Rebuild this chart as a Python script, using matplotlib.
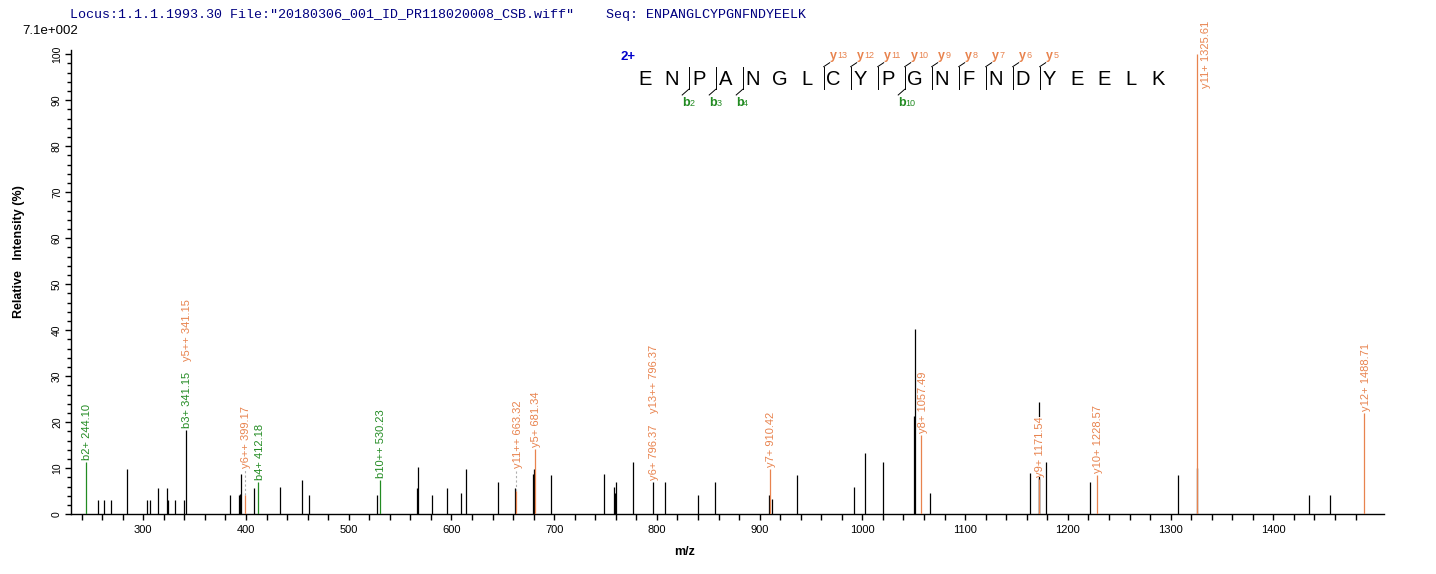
import matplotlib
matplotlib.use("Agg")
import matplotlib.pyplot as plt
from matplotlib.ticker import MultipleLocator, FixedLocator
from matplotlib.lines import Line2D
from matplotlib.textpath import TextPath
from matplotlib.font_manager import FontProperties

plt.rcParams['font.family'] = ['Liberation Sans', 'DejaVu Sans']

# ---------------- data ----------------
header = 'Locus:1.1.1.1993.30 File:"20180306_001_ID_PR118020008_CSB.wiff"    Seq: ENPANGLCYPGNFNDYEELK'
scale_text = '7.1e+002'
sequence = 'ENPANGLCYPGNFNDYEELK'
charge_text = '2+'
b_ions = [2, 3, 4, 10]
y_ions = [13, 12, 11, 10, 9, 8, 7, 6, 5]
x_major_ticks = [300, 400, 500, 600, 700, 800, 900, 1000, 1100, 1200, 1300, 1400]

# unmatched peaks (m/z, relative intensity %)
peak_mz = [256.2, 262.1, 268.9, 284.4, 303.9, 306.8, 314.0, 323.4, 324.3, 331.1,
           339.9, 384.6, 392.8, 394.1, 395.3, 408.0, 433.3, 454.7, 461.5, 527.6,
           566.5, 567.5, 581.1, 595.7, 609.3, 614.0, 645.7, 662.3, 679.8, 680.7,
           696.9, 748.4, 758.2, 759.1, 760.1, 777.0, 808.1, 839.8, 856.3, 908.9,
           911.9, 936.2, 991.6, 1002.6, 1020.0, 1050.3, 1051.3, 1065.6, 1163.2, 1171.8,
           1172.2, 1178.4, 1221.2, 1307.1, 1325.9, 1434.9, 1455.0]
peak_int = [3.0, 3.2, 3.0, 9.85, 3.0, 3.0, 5.7, 5.7, 3.0, 3.0,
            3.0, 4.2, 4.2, 4.4, 8.8, 5.7, 5.9, 7.46, 4.2, 4.2,
            5.7, 10.3, 4.2, 5.7, 4.6, 9.85, 7.0, 5.65, 8.76, 9.85,
            8.5, 8.76, 5.9, 4.6, 7.0, 11.35, 7.0, 4.2, 7.0, 4.2,
            3.4, 8.5, 5.9, 13.3, 11.4, 21.4, 40.2, 4.7, 9.0, 7.8,
            24.4, 11.3, 7.0, 8.6, 10.0, 4.2, 4.2]

# matched (annotated) peaks
ann_mz = [244.10, 341.15, 399.17, 412.18, 530.23, 663.32, 681.34, 796.37,
          910.42, 1057.49, 1171.54, 1228.57, 1325.61, 1488.71]
ann_int = [11.4, 18.3, 4.2, 6.95, 7.46, 5.06, 14.1, 7.0,
           9.85, 17.2, 7.6, 8.5, 100.0, 21.95]
ann_text = [['b2+ 244.10'], ['b3+ 341.15', 'y5++ 341.15'], ['y6++ 399.17'],
            ['b4+ 412.18'], ['b10++ 530.23'], ['y11++ 663.32'], ['y5+ 681.34'],
            ['y6+ 796.37', 'y13++ 796.37'], ['y7+ 910.42'], ['y8+ 1057.49'],
            ['y9+ 1171.54'], ['y10+ 1228.57'], ['y11+ 1325.61'], ['y12+ 1488.71']]

# ---------------- style ----------------
W, H = 1436, 574
ORANGE = '#E8834E'
GREEN = '#228B22'
NAVY = '#000080'
lifted = {'y6++ 399.17': 9.6, 'y11++ 663.32': 9.6}


def fx(x):
    return x / W


def fy(y):
    return 1 - y / H


fig = plt.figure(figsize=(W / 100, H / 100), dpi=100)
ax = fig.add_axes([71 / W, (H - 514.3) / H, 1313 / W, (514.3 - 49.7) / H])
ax.set_xlim(229.7, 1507.7)
ax.set_ylim(0, 101)
for s in ['top', 'right']:
    ax.spines[s].set_visible(False)
for s in ['left', 'bottom']:
    ax.spines[s].set_linewidth(1.0)

ax.xaxis.set_major_locator(FixedLocator(x_major_ticks))
minor_x = [v for v in range(x_major_ticks[0] - 60, x_major_ticks[-1] + 81, 20) if v % 100]
ax.xaxis.set_minor_locator(FixedLocator(minor_x))
ax.yaxis.set_major_locator(MultipleLocator(10))
ax.yaxis.set_minor_locator(MultipleLocator(2))
ax.tick_params(axis='x', which='both', direction='out', length=4, width=1, labelsize=8, pad=4)
ax.tick_params(axis='y', which='major', direction='out', length=4.5, width=1, labelsize=7.5, pad=2,
               labelrotation=90)
ax.tick_params(axis='y', which='minor', direction='out', length=3, width=1)
for lab in ax.get_yticklabels():
    lab.set_va('center')

ax.set_ylabel('Relative   Intensity (%)', fontsize=9, fontweight='bold')
ax.yaxis.set_label_coords((25 - 71) / 1313, 0.565)
ax.text((685 - 71) / 1313, (514.3 - 552) / 464.6, 'm/z', transform=ax.transAxes,
        ha='center', va='center', fontsize=9, fontweight='bold')

# peaks
ax.vlines(peak_mz, 0, peak_int, colors='black', linewidth=0.9, zorder=2)


def ion_color(t):
    return GREEN if t.startswith('b') else ORANGE


fp = FontProperties(family='Liberation Sans', size=8)
for mz, h, texts in zip(ann_mz, ann_int, ann_text):
    if len(texts) > 1:
        lc = 'black'
    else:
        lc = ion_color(texts[0])
    ax.vlines([mz], 0, [h], colors=lc, linewidth=0.9, zorder=3)
    base = h
    if texts[0] in lifted:
        base = lifted[texts[0]]
        ax.plot([mz, mz], [h, base], color='#B0B0B0', linestyle=(0, (2, 2)),
                linewidth=0.8, zorder=2)
    if h > 90:
        ax.annotate(texts[0], xy=(mz, h), xytext=(6.5, -24), textcoords='offset points',
                    rotation=90, ha='center', va='bottom', fontsize=8,
                    color=ion_color(texts[0]), annotation_clip=False, zorder=5)
        continue
    off = 1.5
    for t in texts:
        ax.annotate(t, xy=(mz, base), xytext=(0.8, off), textcoords='offset points',
                    rotation=90, ha='center', va='bottom', fontsize=8,
                    color=ion_color(t), annotation_clip=False, zorder=5,
                    bbox=dict(facecolor='white', edgecolor='none', pad=0))
        w = TextPath((0, 0), t, prop=fp).get_extents().width
        off += w + 9

# header texts
fig.text(fx(70), fy(15), header, family='Liberation Mono', fontsize=9.6, color=NAVY,
         ha='left', va='center')
fig.text(fx(22), fy(30.7), scale_text, fontsize=9.5, ha='left', va='center')

# sequence annotation
x0, dx, yc = 644.7, 27.0, 79.3
for i, aa in enumerate(sequence):
    fig.text(fx(x0 + dx * i), fy(yc), aa, fontsize=14.5, ha='center', va='center')

fig.text(fx(628), fy(56.7), charge_text, fontsize=9.5, fontweight='bold', color='#0000CC',
         ha='center', va='center')

n = len(sequence)
sites = sorted(set([k for k in b_ions] + [n - k for k in y_ions]))
for j in sites:
    sx = x0 + dx * j - 10
    fig.add_artist(Line2D([fx(sx), fx(sx)], [fy(66.7), fy(89.3)], color='black', linewidth=0.7))
    if (n - j) in y_ions:
        fig.add_artist(Line2D([fx(sx), fx(sx + 6)], [fy(66.7), fy(62.7)], color='black', linewidth=0.7))
        fig.text(fx(sx + 6), fy(58.5), 'y', fontsize=9, fontweight='bold', color=ORANGE,
                 ha='left', va='baseline')
        fig.text(fx(sx + 13.5), fy(58.5), str(n - j), fontsize=6.5, color=ORANGE,
                 ha='left', va='baseline')
    if j in b_ions:
        fig.add_artist(Line2D([fx(sx), fx(sx - 6.5)], [fy(89.3), fy(95)], color='black', linewidth=0.7))
        fig.text(fx(sx - 7), fy(106), 'b', fontsize=9, fontweight='bold', color=GREEN,
                 ha='left', va='baseline')
        fig.text(fx(sx + 0.5), fy(106), str(j), fontsize=6.5, color=GREEN,
                 ha='left', va='baseline')

fig.savefig('out.png', dpi=100)
